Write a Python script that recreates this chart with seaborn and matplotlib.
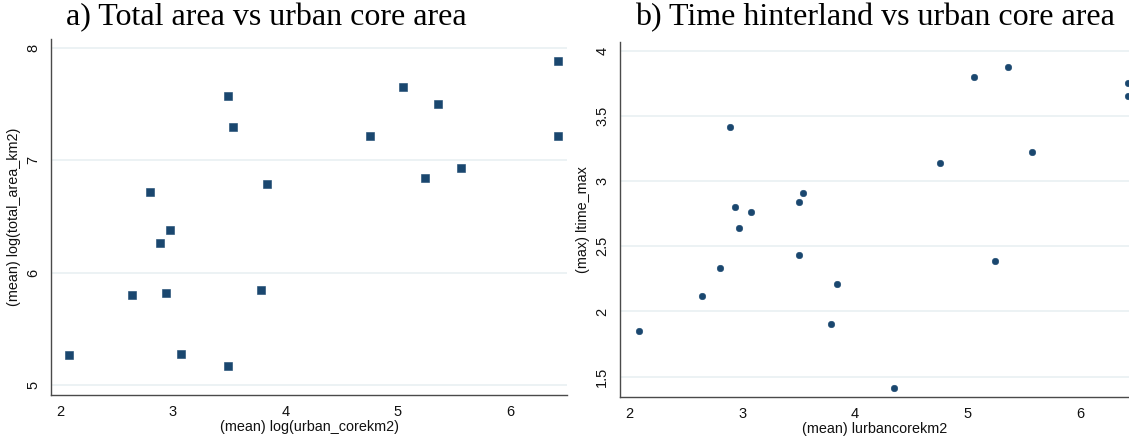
import matplotlib
matplotlib.use("Agg")
import matplotlib.pyplot as plt
import seaborn as sns
import pandas as pd

# Panel a data
a_x = [2.078, 2.637, 2.801, 2.888, 2.937, 2.972, 3.073, 3.492, 3.492, 3.538,
       3.783, 3.835, 4.752, 5.049, 5.240, 5.359, 5.560, 6.419, 6.419]
a_y = [5.27, 5.80, 6.717, 6.267, 5.822, 6.382, 5.277, 7.571, 5.173, 7.298,
       5.849, 6.786, 7.218, 7.653, 6.839, 7.497, 6.928, 7.879, 7.218]

# Panel b data
b_x = [2.080, 2.642, 2.803, 2.893, 2.939, 2.974, 3.077, 3.500, 3.500, 3.542,
       3.787, 3.842, 4.346, 4.755, 5.055, 5.246, 5.362, 5.569, 6.424, 6.424]
b_y = [1.852, 2.118, 2.331, 3.412, 2.805, 2.644, 2.761, 2.838, 2.431, 2.905,
       1.901, 2.210, 1.412, 3.140, 3.800, 2.390, 3.877, 3.222, 3.754, 3.654]

a_xticks = [2, 3, 4, 5, 6]
a_yticks = [5, 6, 7, 8]
b_xticks = [2, 3, 4, 5, 6]
b_yticks = [1.5, 2, 2.5, 3, 3.5, 4]
b_yticklabels = ["1.5", "2", "2.5", "3", "3.5", "4"]

titles = ["a) Total area vs urban core area", "b) Time hinterland vs urban core area"]
xlabels = ["(mean) log(urban_corekm2)", "(mean) lurbancorekm2"]
ylabels = ["(mean) log(total_area_km2)", "(max) ltime_max"]

sns.set_style("white")
plt.rcParams["font.family"] = ["Liberation Sans", "DejaVu Sans"]

navy = "#1a476f"
grid_c = "#eaf1f3"
spine_c = "#4a4a4a"
tick_c = "#8a8a8a"

fig = plt.figure(figsize=(11.29, 4.41), dpi=100)
ax1 = fig.add_axes([0.0454, 0.1043, 0.4568, 0.8073])
ax2 = fig.add_axes([0.5495, 0.0991, 0.4505, 0.8063])

dfa = pd.DataFrame({"x": a_x, "y": a_y})
dfb = pd.DataFrame({"x": b_x, "y": b_y})

sns.scatterplot(data=dfa, x="x", y="y", ax=ax1, marker="s", s=26, color=navy,
                edgecolor=navy, linewidth=0.4, zorder=3)
sns.scatterplot(data=dfb, x="x", y="y", ax=ax2, marker="o", s=22, color=navy,
                edgecolor=navy, linewidth=0.4, zorder=3)

configs = [
    (ax1, (1.919, 6.503), (4.914, 8.077), a_xticks, a_yticks, [str(v) for v in a_yticks]),
    (ax2, (1.919, 6.432), (1.342, 4.069), b_xticks, b_yticks, b_yticklabels),
]
for i, (ax, xl, yl, xt, yt, ytl) in enumerate(configs):
    ax.set_xlim(*xl)
    ax.set_ylim(*yl)
    ax.set_xticks(xt)
    ax.set_xticklabels([str(v) for v in xt])
    ax.set_yticks(yt)
    ax.set_yticklabels(ytl, rotation=90, va="center")
    for v in yt:
        ax.axhline(v, color=grid_c, lw=1.3, zorder=1)
    for s in ["top", "right"]:
        ax.spines[s].set_visible(False)
    for s in ["left", "bottom"]:
        ax.spines[s].set_color(spine_c)
        ax.spines[s].set_linewidth(1.0)
    ax.tick_params(axis="both", direction="out", length=6, width=0.9,
                   color=tick_c, labelsize=10.5, labelcolor="#111111", pad=2)
    ax.tick_params(axis="x", length=5)
    ax.set_xlabel(xlabels[i], fontsize=10.4, color="#111111", labelpad=1)
    ax.set_ylabel(ylabels[i], fontsize=10.4, color="#111111", labelpad=4)

fig.text(266 / 1129, 1 - 18 / 441, titles[0], ha="center", va="center",
         fontsize=23, family=["Liberation Serif", "DejaVu Serif"], color="#000000")
fig.text(875 / 1129, 1 - 18 / 441, titles[1], ha="center", va="center",
         fontsize=23, family=["Liberation Serif", "DejaVu Serif"], color="#000000")

fig.savefig("out.png", dpi=100, facecolor="white")
